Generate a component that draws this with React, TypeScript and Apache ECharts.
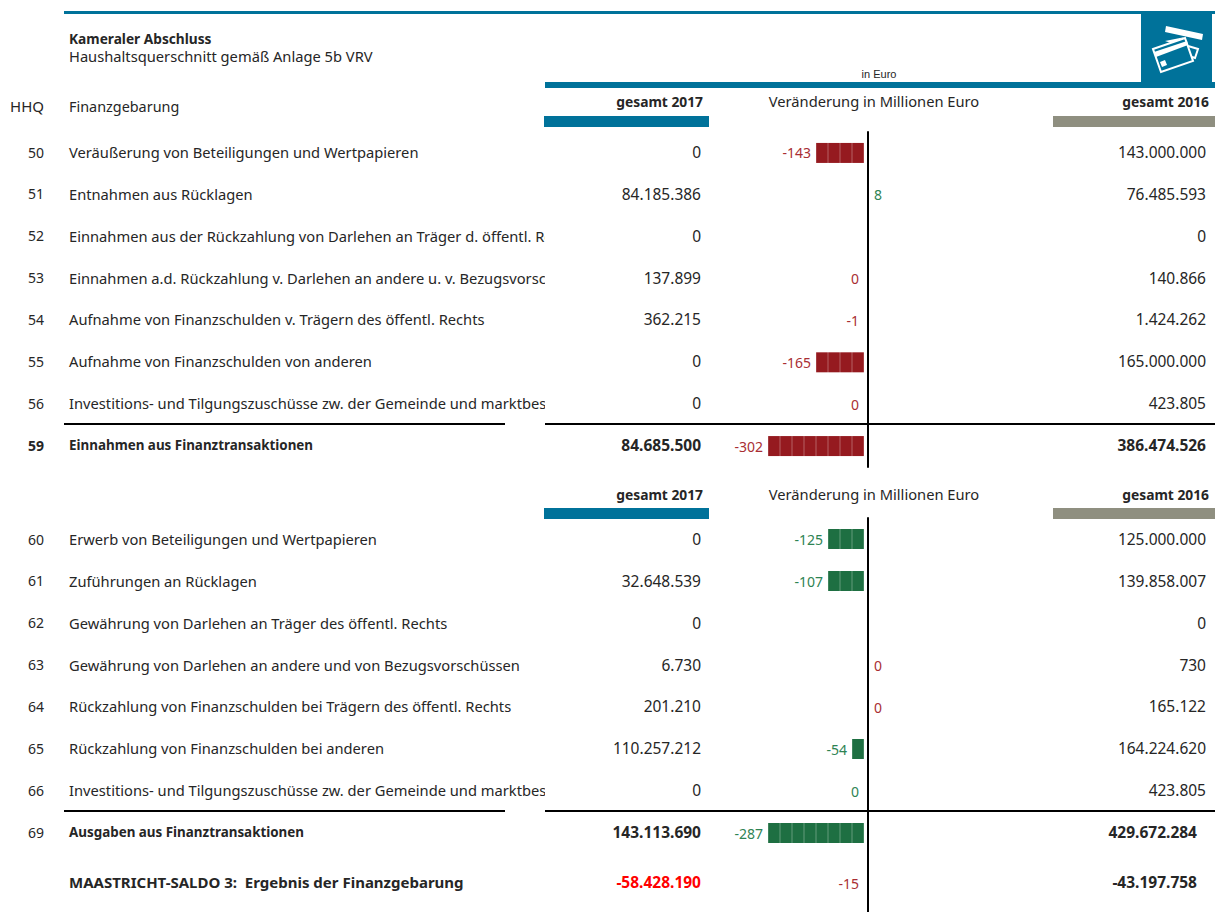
import React, { useEffect, useRef } from "react";
import * as echarts from "echarts";

const TEAL = "#00729a";
const GREY = "#8f8f80";
const RED = "#951a1f";
const RED_TEXT = "#a92e33";
const GREEN = "#1e6f42";
const GREEN_TEXT = "#2e8353";
const INK = "#262626";
const FONT = "Noto Sans";

const incomeCodes = ["50", "51", "52", "53", "54", "55", "56", "59"];
const incomeNames = [
  "Veräußerung von Beteiligungen und Wertpapieren",
  "Entnahmen aus Rücklagen",
  "Einnahmen aus der Rückzahlung von Darlehen an Träger d. öffentl. Re",
  "Einnahmen a.d. Rückzahlung v. Darlehen an andere u. v. Bezugsvorschl",
  "Aufnahme von Finanzschulden v. Trägern des öffentl. Rechts",
  "Aufnahme von Finanzschulden von anderen",
  "Investitions- und Tilgungszuschüsse zw. der Gemeinde und marktbes",
  "Einnahmen aus Finanztransaktionen",
];
const income2017 = ["0", "84.185.386", "0", "137.899", "362.215", "0", "0", "84.685.500"];
const income2016 = ["143.000.000", "76.485.593", "0", "140.866", "1.424.262", "165.000.000", "423.805", "386.474.526"];
const incomeChange = ["-143", "8", "", "0", "-1", "-165", "0", "-302"];
const incomeBlocks = [-4, 0, 0, 0, 0, -4, 0, -8];
const incomeGood = [false, true, false, false, false, false, false, false];
const incomeRight = [false, true, false, false, false, false, false, false];

const spendCodes = ["60", "61", "62", "63", "64", "65", "66", "69"];
const spendNames = [
  "Erwerb von Beteiligungen und Wertpapieren",
  "Zuführungen an Rücklagen",
  "Gewährung von Darlehen an Träger des öffentl. Rechts",
  "Gewährung von Darlehen an andere und von Bezugsvorschüssen",
  "Rückzahlung von Finanzschulden bei Trägern des öffentl. Rechts",
  "Rückzahlung von Finanzschulden bei anderen",
  "Investitions- und Tilgungszuschüsse zw. der Gemeinde und marktbes",
  "Ausgaben aus Finanztransaktionen",
];
const spend2017 = ["0", "32.648.539", "0", "6.730", "201.210", "110.257.212", "0", "143.113.690"];
const spend2016 = ["125.000.000", "139.858.007", "0", "730", "165.122", "164.224.620", "423.805", "429.672.284"];
const spendChange = ["-125", "-107", "", "0", "0", "-54", "0", "-287"];
const spendBlocks = [-3, -3, 0, 0, 0, -1, 0, -8];
const spendGood = [true, true, false, false, false, true, true, true];
const spendRight = [false, false, false, true, true, false, false, false];

const saldoName = "MAASTRICHT-SALDO 3:  Ergebnis der Finanzgebarung";
const saldo2017 = "-58.428.190";
const saldo2016 = "-43.197.758";
const saldoChange = "-15";
const saldoBlocks = [0];

const ROW = 41.86;
const incomeY = (i: number) => 153 + i * ROW;
const spendY = (i: number) => 540 + i * ROW;

function text(x: number, y: number, t: string, opts: any = {}) {
  return {
    type: "text",
    x,
    y: y - 1,
    z: opts.z ?? 10,
    style: {
      text: t,
      fill: opts.fill ?? INK,
      font: `${opts.bold ? "bold " : ""}${opts.size ?? 14.7}px ${opts.family ?? FONT}`,
      align: opts.align ?? "left",
      verticalAlign: "middle",
    },
  };
}
function box(x: number, y: number, w: number, h: number, fill: string, z = 5) {
  return { type: "rect", z, shape: { x, y, width: w, height: h }, style: { fill } };
}

function tableRows(
  codes: string[], names: string[], a: string[], b: string[], yOf: (i: number) => number, boldCode: boolean, col16: number,
) {
  const out: any[] = [];
  codes.forEach((c, i) => {
    const y = yOf(i);
    const total = i === codes.length - 1;
    out.push(text(44, y, c, { align: "right", bold: total && boldCode, size: 14 }));
    out.push(text(69, y, names[i], { bold: total, z: 3, size: total ? 13.4 : 14.7 }));
    out.push(box(545, y - 11, 100, 22, "#ffffff", 4));
    out.push(text(701, y, a[i], { align: "right", bold: total, size: 15.5 }));
    out.push(text(total ? col16 : 1206, y, b[i], { align: "right", bold: total, size: 15.5 }));
  });
  return out;
}

function headers(y: number, barY: number) {
  return [
    text(703, y, "gesamt 2017", { align: "right", bold: true, size: 13.8 }),
    text(874, y, "Veränderung in Millionen Euro", { align: "center" }),
    text(1209, y, "gesamt 2016", { align: "right", bold: true, size: 13.8 }),
    box(544, barY, 165, 11, TEAL),
    box(1053, barY, 162, 11, GREY),
  ];
}

const graphicIcon = [
  box(1141, 14, 71, 68, TEAL, 6),
  { type: "polygon", z: 7, shape: { points: [[1166, 26], [1203, 34], [1202, 40], [1165, 32]] }, style: { fill: "#fff" } },
  { type: "polygon", z: 7, shape: { points: [[1165, 41], [1185, 37], [1171, 43]] }, style: { fill: "#fff" } },
  { type: "polygon", z: 7, shape: { points: [[1153, 49], [1185, 38], [1193, 61], [1161, 72]] }, style: { fill: "none", stroke: "#fff", lineWidth: 2 } },
  { type: "polygon", z: 7, shape: { points: [[1154, 52], [1187, 41], [1188, 45], [1156, 57]] }, style: { fill: "#fff" } },
  { type: "polygon", z: 7, shape: { points: [[1160, 62], [1165, 60], [1167, 65], [1162, 67]] }, style: { fill: "#fff" } },
  { type: "polyline", z: 7, shape: { points: [[1188, 46], [1198, 49], [1195, 58], [1192, 57]] }, style: { fill: "none", stroke: "#fff", lineWidth: 2 } },
];

function labelData(vals: string[], good: boolean[], right: boolean[], blocks: number[]) {
  return vals.map((t, i) => ({
    value: t === "" ? null : blocks[i],
    label: {
      show: t !== "",
      formatter: t,
      position: right[i] ? "right" : "left",
      distance: right[i] ? 10 : 5,
      color: good[i] ? GREEN_TEXT : RED_TEXT,
      fontFamily: FONT,
      fontSize: 14,
    },
  }));
}

function renderBlocks(_: any, api: any) {
  const n = Math.abs(api.value(0));
  const row = api.value(1);
  const color = api.value(2) ? GREEN : RED;
  const children: any[] = [];
  for (let k = 0; k < n; k++) {
    const p = api.coord([-(k + 1), row]);
    const w = api.size([1, 0])[0];
    children.push({
      type: "rect",
      shape: { x: p[0] + 0.15, y: p[1] - 10, width: w - 0.3, height: 20 },
      style: { fill: color },
    });
  }
  return { type: "group", children };
}

function rowSeries(idx: number, blocks: number[], good: boolean[], vals: string[], right: boolean[]) {
  return [
    {
      type: "bar",
      xAxisIndex: idx,
      yAxisIndex: idx,
      barWidth: 20,
      itemStyle: { color: "rgba(0,0,0,0)" },
      data: labelData(vals, good, right, blocks),
      silent: true,
    },
    {
      type: "custom",
      xAxisIndex: idx,
      yAxisIndex: idx,
      renderItem: renderBlocks,
      encode: { x: 0, y: 1 },
      data: blocks.map((v, i) => [v, i, good[i] ? 1 : 0]),
      silent: true,
    },
  ];
}

export default function App() {
  const ref = useRef<HTMLDivElement>(null);
  useEffect(() => {
    document.body.style.margin = "0";
    const chart = echarts.init(ref.current!, undefined, { renderer: "svg" });
    const grids = [
      { left: 720, width: 168, top: 132, height: 335 },
      { left: 720, width: 168, top: 518, height: 336 },
      { left: 720, width: 168, top: 854, height: 58 },
    ];
    const xAxis = grids.map((_, i) => ({
      type: "value", gridIndex: i, min: -12, max: 2, show: false,
    }));
    const yAxis = [incomeCodes, spendCodes, ["saldo"]].map((cats, i) => ({
      type: "category",
      gridIndex: i,
      inverse: true,
      data: cats,
      position: "right",
      offset: -20,
      axisLine: { show: true, onZero: false, lineStyle: { color: "#000", width: 2 } },
      axisTick: { show: false },
      axisLabel: { show: false },
    }));
    const graphic = [
      box(64, 11, 1151, 3, TEAL),
      text(69, 39, "Kameraler Abschluss", { bold: true, size: 13.7 }),
      text(69, 57, "Haushaltsquerschnitt gemäß Anlage 5b VRV"),
      text(879, 75, "in Euro", { align: "center", size: 11, family: "Liberation Sans" }),
      box(545, 82, 670, 6, TEAL),
      ...graphicIcon,
      text(44, 107, "HHQ", { align: "right", size: 15 }),
      text(69, 107, "Finanzgebarung", { size: 14.4 }),
      ...headers(102, 116),
      ...tableRows(incomeCodes, incomeNames, income2017, income2016, incomeY, true, 1206),
      box(64, 423, 441, 2, "#000"),
      box(545, 423, 670, 2, "#000"),
      ...headers(495, 508),
      ...tableRows(spendCodes, spendNames, spend2017, spend2016, spendY, false, 1197),
      box(64, 810, 441, 2, "#000"),
      box(545, 810, 670, 2, "#000"),
      text(69, 883, saldoName, { bold: true, size: 15 }),
      text(701, 883, saldo2017, { bold: true, align: "right", fill: "#ff0000", size: 15.5 }),
      text(1197, 883, saldo2016, { bold: true, align: "right", size: 15.5 }),
    ];
    chart.setOption({
      animation: false,
      grid: grids,
      xAxis,
      yAxis,
      graphic,
      series: [
        ...rowSeries(0, incomeBlocks, incomeGood, incomeChange, incomeRight),
        ...rowSeries(1, spendBlocks, spendGood, spendChange, spendRight),
        ...rowSeries(2, saldoBlocks, [false], [saldoChange], [false]),
      ],
    });
    return () => chart.dispose();
  }, []);
  return <div ref={ref} style={{ width: 1215, height: 912 }} />;
}
